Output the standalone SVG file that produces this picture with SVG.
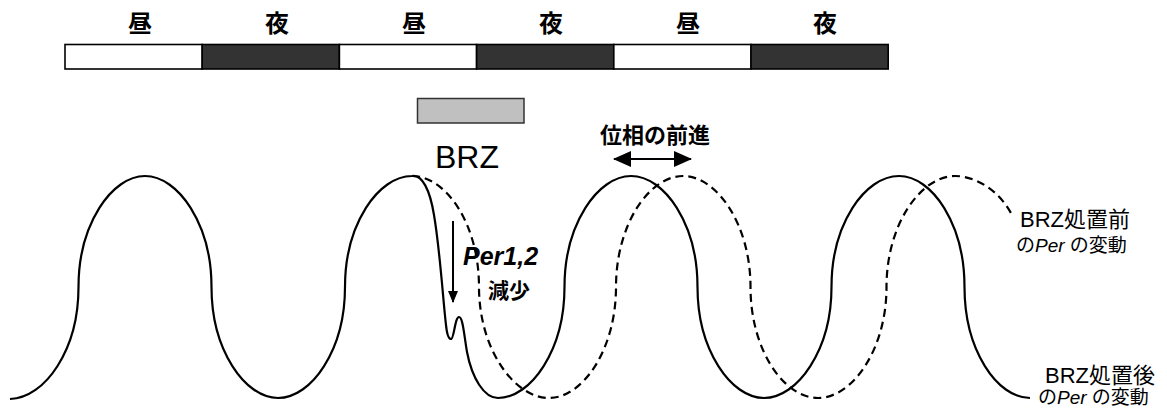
<svg xmlns="http://www.w3.org/2000/svg" width="1167" height="410" viewBox="0 0 1167 410">
<style>
text{font-family:"Liberation Sans","Noto Sans CJK JP",sans-serif;fill:#000}
.dn{font-size:24px;text-anchor:middle;font-weight:bold}
.day{fill:#fff;stroke:#000;stroke-width:1.6}
.night{fill:#333;stroke:#000;stroke-width:1.6}
.curve{fill:none;stroke:#000;stroke-width:2.2;stroke-linejoin:round}
.dash{stroke-dasharray:8 5}
.arr{stroke:#000;stroke-width:2;fill:none}
.lbl{font-size:22px}
.sub{font-size:19px}
</style>
<defs>
<marker id="ah" viewBox="0 0 12 10" refX="11" refY="5" markerWidth="12" markerHeight="10" markerUnits="userSpaceOnUse" orient="auto-start-reverse">
<path d="M0,0 L12,5 L0,10 Z" fill="#000"/>
</marker>
<marker id="ah2" viewBox="0 0 18 16" refX="17" refY="8" markerWidth="18" markerHeight="16" markerUnits="userSpaceOnUse" orient="auto-start-reverse">
<path d="M0,0 L18,8 L0,16 Z" fill="#000"/>
</marker>
</defs>
<g id="daynight-bar">
<rect class="day" x="65" y="44.5" width="137.2" height="24.5"/>
<rect class="night" x="202.2" y="44.5" width="137.2" height="24.5"/>
<rect class="day" x="339.4" y="44.5" width="137.2" height="24.5"/>
<rect class="night" x="476.6" y="44.5" width="137.2" height="24.5"/>
<rect class="day" x="613.8" y="44.5" width="137.2" height="24.5"/>
<rect class="night" x="751" y="44.5" width="137.2" height="24.5"/>
</g>
<g id="daynight-labels">
<text class="dn" x="140" y="32">昼</text>
<text class="dn" x="277" y="32">夜</text>
<text class="dn" x="414" y="32">昼</text>
<text class="dn" x="551" y="32">夜</text>
<text class="dn" x="688" y="32">昼</text>
<text class="dn" x="825" y="32">夜</text>
</g>
<g id="brz">
<rect x="417.5" y="98.5" width="106.5" height="24.5" fill="#c0c0c0" stroke="#333" stroke-width="1.5"/>
<text x="467" y="168" font-size="32" text-anchor="middle">BRZ</text>
</g>
<g id="curve-before">
<path class="curve dash" d="M412,176 C446,176 479,224 479,287 C479,350 515,398 549,398 C582.5,398 616,350 616,287 C616,224 649.5,176 683,176 C716.5,176 750.5,224 750.5,287 C750.5,350 784,398 818,398 C852,398 886.5,350 886.5,287 C886.5,224 921,176 955,176 C975,176 1000,190 1013,217"/>
</g>
<g id="curve-after">
<path class="curve" d="M10,399 C45,398 78.5,350 78.5,287 C78.5,224 112,176 145,176 C178,176 211.5,224 211.5,287 C211.5,350 245,398 278,398 C311.5,398 345,350 345,287 C345,224 378.5,176 412,176 C422,174 430,190 434,215 C440,250 443,300 446,325 C447,335 449,339 451,339 C454,339 455,317 459,317 C463,317 464,335 467,352 C472,378 484,398 498,398 C531,398 564.5,350 564.5,287 C564.5,224 598,176 631,176 C664.5,176 697.5,224 697.5,287 C697.5,350 731,398 764,398 C797.5,398 831.5,350 831.5,287 C831.5,224 865,176 899,176 C932,176 964.5,224 964.5,287 C964.5,350 997,398 1030,398"/>
</g>
<g id="connectors">
<line class="arr" x1="453" y1="221" x2="453" y2="302" marker-end="url(#ah)"/>
<line class="arr" x1="614" y1="159" x2="691" y2="159" stroke-width="3" marker-start="url(#ah2)" marker-end="url(#ah2)"/>
</g>
<g id="phase-label">
<text x="655" y="143" font-size="22" font-weight="bold" text-anchor="middle">位相の前進</text>
</g>
<g id="per-label">
<text x="463" y="265" font-size="25" font-weight="bold" font-style="italic">Per1,2</text>
<text x="509" y="298" font-size="21" font-weight="bold" text-anchor="middle">減少</text>
</g>
<g id="label-before">
<text class="lbl" x="1020" y="227">BRZ処置前</text>
<text class="sub" x="1016" y="252">の<tspan font-style="italic">Per</tspan> の変動</text>
</g>
<g id="label-after">
<text class="lbl" x="1045" y="383">BRZ処置後</text>
<text class="sub" x="1038" y="404">の<tspan font-style="italic">Per</tspan> の変動</text>
</g>
</svg>
